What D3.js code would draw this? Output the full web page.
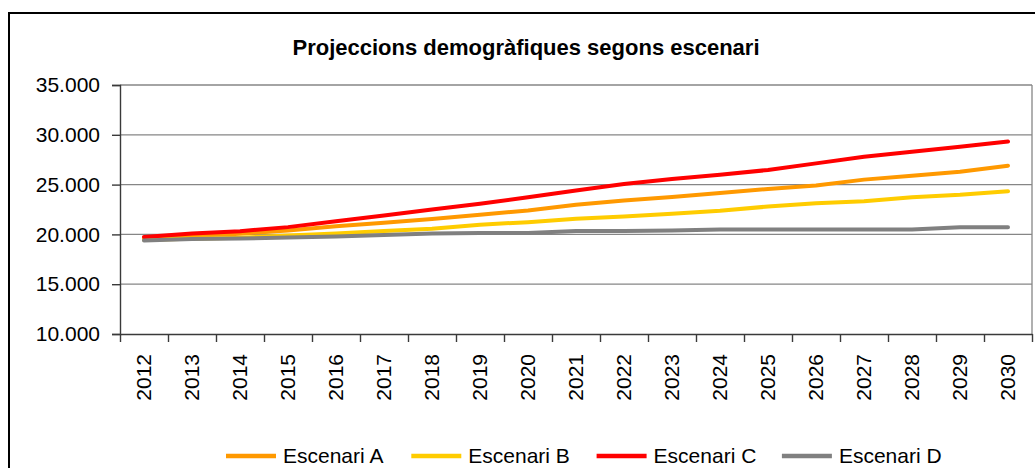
<!DOCTYPE html>
<html>
<head>
<meta charset="utf-8">
<script src="https://cdn.jsdelivr.net/npm/d3@7"></script>
<style>
  body { margin: 0; background: #fff; }
  svg { display: block; font-family: "Liberation Sans", Arial, sans-serif; }
</style>
</head>
<body>
<svg id="lineChar" width="1035" height="468"></svg>
<script>
// dades
var years = ["2012","2013","2014","2015","2016","2017","2018","2019","2020","2021","2022","2023","2024","2025","2026","2027","2028","2029","2030"];
var escenariA = [19650,19850,20070,20400,20830,21170,21550,21970,22400,22970,23400,23750,24150,24570,24900,25500,25900,26300,26900];
var escenariB = [19470,19570,19670,19900,20100,20330,20570,20970,21230,21570,21800,22070,22370,22800,23130,23330,23730,23970,24330];
var escenariC = [19750,20100,20320,20730,21330,21900,22500,23070,23730,24400,25070,25570,25980,26470,27130,27800,28300,28800,29330];
var escenariD = [19400,19550,19580,19700,19800,19950,20100,20130,20130,20330,20350,20380,20500,20500,20500,20500,20500,20730,20730];
var seriesNames = ["Escenari A","Escenari B","Escenari C","Escenari D"];
var seriesColors = ["#FF9900","#FFCC00","#FF0000","#808080"];
var yTicks = [10000,15000,20000,25000,30000,35000];

var series = [escenariA, escenariB, escenariC, escenariD].map((vals, i) => ({
    name: seriesNames[i],
    color: seriesColors[i],
    values: vals.map((v, j) => ({year: years[j], value: v}))
}));

var svg = d3.select("#lineChar");
var margin = ({top: 85, right: 3, bottom: 134, left: 120});
var width = 1035, height = 468;

var locale = d3.formatLocale({decimal: ",", thousands: ".", grouping: [3], currency: ["", "€"]});
var format = locale.format(",d");

var x = d3.scaleBand()
    .domain(years)
    .range([margin.left, width - margin.right])
    .padding(0);

// ticks entre categories
var xEdge = d3.scaleLinear()
    .domain([0, years.length])
    .range([margin.left, width - margin.right]);

var y = d3.scaleLinear()
    .domain([10000, 35000])
    .range([height - margin.bottom, margin.top]);

// marc exterior
svg.append("rect")
    .attr("x", 9).attr("y", 13)
    .attr("width", 1100).attr("height", 500)
    .attr("fill", "#fff")
    .attr("stroke", "#000")
    .attr("stroke-width", 2);

// títol
svg.append("text")
    .attr("x", 526)
    .attr("y", 55)
    .attr("text-anchor", "middle")
    .style("font-size", "22px")
    .style("font-weight", "bold")
    .attr("fill", "#000")
    .text("Projeccions demogràfiques segons escenari");

// graella
svg.append("g")
    .attr("stroke", "#868686")
    .attr("stroke-width", 1.3)
  .selectAll("line")
  .data(yTicks.slice(1))
  .join("line")
    .attr("x1", margin.left)
    .attr("x2", width - margin.right)
    .attr("y1", d => y(d))
    .attr("y2", d => y(d));

svg.append("line")
    .attr("x1", width - margin.right).attr("x2", width - margin.right)
    .attr("y1", y(35000)).attr("y2", y(10000))
    .attr("stroke", "#868686")
    .attr("stroke-width", 1.3);

var yAxis = g => g
    .attr("transform", `translate(${margin.left},0)`)
    .call(d3.axisLeft(y).tickValues(yTicks).tickFormat(format).tickSize(8).tickPadding(12))
    .call(g => g.selectAll("line, path").attr("stroke", "#3a3a3a").attr("stroke-width", 1.4))
    .call(g => g.selectAll("text").style("font-size", "21px").attr("fill", "#000").attr("font-family", null));

var xTicks = g => g
    .attr("transform", `translate(0,${height - margin.bottom})`)
    .call(d3.axisBottom(xEdge).tickValues(d3.range(years.length + 1)).tickFormat("").tickSize(8).tickSizeOuter(0))
    .call(g => g.selectAll("line, path").attr("stroke", "#3a3a3a").attr("stroke-width", 1.4));

svg.append("g").call(xTicks);
svg.append("g").call(yAxis);

// etiquetes d'anys giradas
svg.append("g")
    .style("font-size", "21px")
    .attr("fill", "#000")
  .selectAll("text")
  .data(years)
  .join("text")
    .attr("transform", d => `translate(${x(d) + x.bandwidth() / 2},354) rotate(-90)`)
    .attr("text-anchor", "end")
    .attr("dy", "0.35em")
    .text(d => d);

// línies
var line = d3.line()
    .x(d => x(d.year) + x.bandwidth() / 2)
    .y(d => y(d.value));

svg.append("g")
    .attr("fill", "none")
    .attr("stroke-width", 4)
    .attr("stroke-linejoin", "round")
    .attr("stroke-linecap", "round")
  .selectAll("path")
  .data(series)
  .join("path")
    .attr("stroke", d => d.color)
    .attr("d", d => line(d.values));

// llegenda
var legend = svg.append("g")
  .selectAll("g")
  .data(series)
  .join("g")
    .attr("transform", (d, i) => `translate(${226 + i * 185.3},456)`);

legend.append("line")
    .attr("x1", 0).attr("x2", 50)
    .attr("stroke", d => d.color)
    .attr("stroke-width", 4.5);

legend.append("text")
    .attr("x", 57)
    .attr("dy", "0.35em")
    .style("font-size", "21px")
    .attr("fill", "#000")
    .text(d => d.name);
</script>
</body>
</html>
